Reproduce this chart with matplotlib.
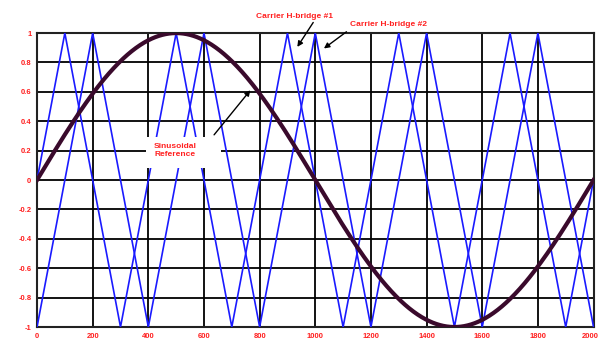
import numpy as np
import matplotlib
matplotlib.use("Agg")
import matplotlib.pyplot as plt
from matplotlib.patches import Rectangle
from matplotlib.transforms import ScaledTranslation

plt.rcParams['font.family'] = ['Liberation Sans', 'DejaVu Sans']

# Carrier 1 vertices (H-bridge #1)
c1_x = [0, 200, 400, 600, 800, 1000, 1200, 1400, 1600, 1800, 2000]
c1_y = [-1, 1, -1, 1, -1, 1, -1, 1, -1, 1, -1]
# Carrier 2 vertices (H-bridge #2)
c2_x = [0, 100, 300, 500, 700, 900, 1100, 1300, 1500, 1700, 1900, 2000]
c2_y = [0, 1, -1, 1, -1, 1, -1, 1, -1, 1, -1, 0]
# Sinusoidal reference
sine_period = 2000
sine_amp = 1.0

xticks = [0, 200, 400, 600, 800, 1000, 1200, 1400, 1600, 1800, 2000]
yticks = [-1, -0.8, -0.6, -0.4, -0.2, 0, 0.2, 0.4, 0.6, 0.8, 1]
ytick_labels = ["-1", "-0.8", "-0.6", "-0.4", "-0.2", "0", "0.2", "0.4", "0.6", "0.8", "1"]

red = "#ff2020"
fig = plt.figure(figsize=(6.01, 3.41), dpi=100)
ax = fig.add_axes([0.0616, 0.041, 0.926, 0.862])

xs = np.linspace(0, 2000, 801)
ax.plot(c1_x, c1_y, color="#1a1aff", lw=1.2, zorder=3)
ax.plot(c2_x, c2_y, color="#1a1aff", lw=1.2, zorder=3)
ax.plot(xs, sine_amp * np.sin(2 * np.pi * xs / sine_period), color="#3a0a2c", lw=3, zorder=4)

ax.set_xlim(0, 2000)
ax.set_ylim(-1, 1)
ax.set_xticks(xticks)
ax.set_xticklabels([str(v) for v in xticks])
ax.set_yticks(yticks)
ax.set_yticklabels(ytick_labels)
ax.grid(True, color="black", lw=1.3, zorder=1)
ax.set_axisbelow(True)
for s in ax.spines.values():
    s.set_color("#222222")
    s.set_linewidth(1.5)
ax.tick_params(length=0, pad=4, labelsize=5.5, labelcolor=red)
for lab in ax.get_xticklabels() + ax.get_yticklabels():
    lab.set_fontweight("bold")
last = ax.get_xticklabels()[-1]
last.set_transform(last.get_transform() + ScaledTranslation(-3 / 100, 0, fig.dpi_scale_trans))

fkw = dict(fontsize=6, color=red, fontweight="bold")
akw = dict(arrowstyle="-|>", color="black", lw=1.0, mutation_scale=8)

ax.text(925, 1.115, "Carrier H-bridge #1", ha="center", va="center", clip_on=False, **fkw)
ax.annotate("", xy=(930, 0.89), xytext=(998, 1.088), annotation_clip=False, arrowprops=akw)

ax.text(1123, 1.06, "Carrier H-bridge #2", ha="left", va="center", clip_on=False, **fkw)
ax.annotate("", xy=(1023, 0.884), xytext=(1120, 1.02), annotation_clip=False, arrowprops=akw)

ax.add_patch(Rectangle((393, 0.082), 269, 0.211, facecolor="white", edgecolor="none", zorder=5))
ax.text(497, 0.204, "Sinusoidal\nReference", ha="center", va="center", zorder=6, **fkw)
ax.annotate("", xy=(773, 0.626), xytext=(630, 0.293), zorder=6, arrowprops=akw)

fig.savefig("out.png", dpi=100)
